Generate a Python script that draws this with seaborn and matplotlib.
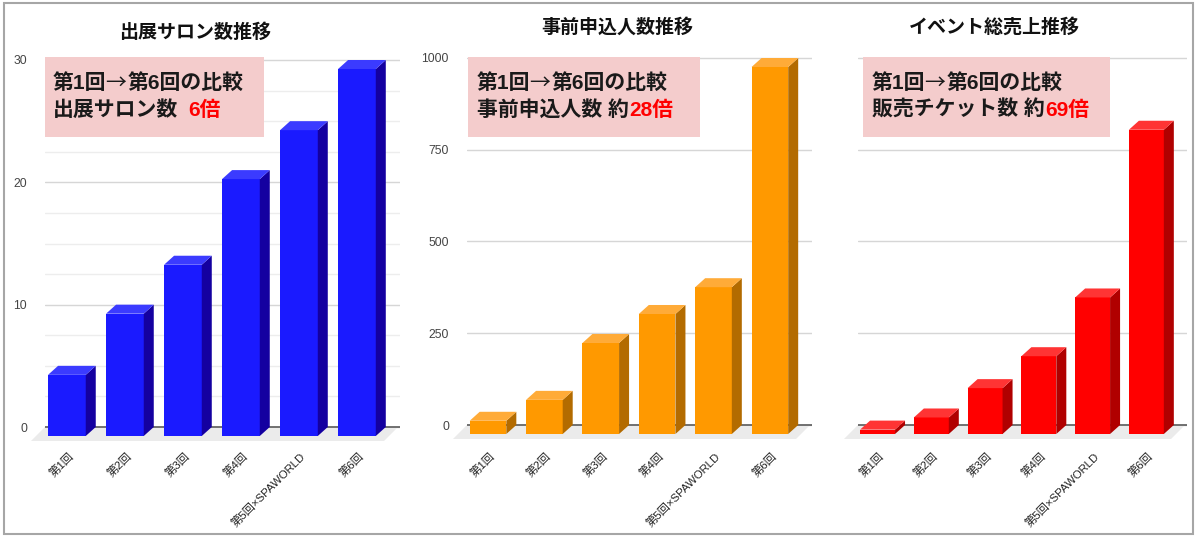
import numpy as np
import pandas as pd
import seaborn as sns
import matplotlib.pyplot as plt
from matplotlib.patches import Polygon, Rectangle
from matplotlib.transforms import offset_copy, ScaledTranslation
from matplotlib.ticker import MultipleLocator

# data
rounds = ["第1回", "第2回", "第3回", "第4回", "第5回×SPAWORLD", "第6回"]
salons = [5, 10, 14, 21, 25, 30]
applicants = [36, 93, 248, 327, 400, 1000]
tickets = [12, 45, 125, 212, 372, 829]

titles = ["出展サロン数推移", "事前申込人数推移", "イベント総売上推移"]
box_line1 = ["第1回", "→", "第6回の比較"]
box_black = ["出展サロン数", "事前申込人数 約", "販売チケット数 約"]
box_red = ["6倍", "28倍", "69倍"]

sns.set_theme(style="white")
plt.rcParams['font.family'] = ['Liberation Sans', 'Noto Sans CJK JP', 'DejaVu Sans']

W, H = 1200, 539
fig = plt.figure(figsize=(12, 5.39), dpi=100)
fig.patch.set_facecolor('white')


def fx(x):
    return x / W


def fy(y):
    return 1 - y / H


XLIM = (-0.55, 5.57)
DX, DY = 10, 9          # 3d depth of the bars, pixels
AX_TOP, AX_BOT = 52, 445
BOX_FS = 15


def bar3d(values, left, right, zero, top, top_val, ticks, cols, minor=None, show_y=True):
    front, side, lid = cols
    ax = fig.add_axes([fx(left), fy(AX_BOT), fx(right) - fx(left), (AX_BOT - AX_TOP) / H])
    ax.set_facecolor('none')
    df = pd.DataFrame({"round": rounds, "value": values})
    sns.barplot(data=df, x="round", y="value", color=front, saturation=1,
                width=0.65, ax=ax, zorder=3)
    ppy = (zero - top) / top_val
    ppx = (right - left) / (XLIM[1] - XLIM[0])
    ax.set_xlim(*XLIM)
    ax.set_ylim(-(AX_BOT - zero) / ppy, top_val + (top - AX_TOP) / ppy)

    dx, dy = DX / ppx, DY / ppy
    front_tr = offset_copy(ax.transData, fig=fig, x=-DX, y=-DY, units='dots')
    for bar in list(ax.patches):
        x0, w, h = bar.get_x(), bar.get_width(), bar.get_height()
        x1 = x0 + w
        bar.set_transform(front_tr)
        bar.set_edgecolor('none')
        ax.add_patch(Polygon([(x1 - dx, -dy), (x1, 0), (x1, h), (x1 - dx, h - dy)],
                             closed=True, fc=side, ec='none', zorder=3))
        ax.add_patch(Polygon([(x0 - dx, h - dy), (x1 - dx, h - dy), (x1, h), (x0, h)],
                             closed=True, fc=lid, ec='none', zorder=3))

    # floor
    fdx, fdy = 14 / ppx, 14 / ppy
    xl, xr = XLIM[0], XLIM[1] - 2 / ppx
    ax.add_patch(Polygon([(xl, 0), (xr, 0), (xr - fdx, -fdy), (xl - fdx, -fdy)],
                         closed=True, fc='#ebebeb', ec='none', zorder=1.5, clip_on=False))
    ax.axhline(0, color='#5a5a5a', lw=1.2, zorder=2)

    ax.set_yticks(ticks)
    ax.yaxis.grid(True, color='#d6d6d6', lw=1)
    if minor:
        ax.yaxis.set_minor_locator(MultipleLocator(minor))
        ax.yaxis.grid(True, which='minor', color='#ededed', lw=1)
    ax.set_axisbelow(True)
    ax.tick_params(axis='y', length=0, which='both', pad=13, labelsize=8.7, labelcolor='#444444')
    if not show_y:
        ax.set_yticklabels([])
    ax.set_xticks(range(len(rounds)))
    ax.set_xticklabels(rounds, rotation=45, ha='right', va='center',
                       rotation_mode='anchor', fontsize=8.2, color='#222222')
    ax.tick_params(axis='x', length=0, pad=7)
    shift = ScaledTranslation(-5 / 100, 0, fig.dpi_scale_trans)
    for lbl in ax.get_xticklabels():
        lbl.set_transform(lbl.get_transform() + shift)
    ax.set_xlabel('')
    ax.set_ylabel('')
    sns.despine(ax=ax, left=True, bottom=True)
    return ax


ax1 = bar3d(salons, 45, 400, 427, 60, 30, [0, 10, 20, 30],
            ('#1a1aff', '#1400a0', '#3b3bff'), minor=2.5)
ax2 = bar3d(applicants, 467, 812, 425, 58, 1000, [0, 250, 500, 750, 1000],
            ('#ff9900', '#b36b00', '#ffab38'))
ax3 = bar3d(tickets, 858, 1187, 425, 58, 1000, [0, 250, 500, 750, 1000],
            ('#ff0000', '#b00000', '#ff3434'), show_y=False)

# titles
title_pos = [(195, 33), (617, 27), (994, 27)]
for t, (cx, cy) in zip(titles, title_pos):
    fig.text(fx(cx), fy(cy), t, ha='center', va='center', fontsize=13.7,
             fontweight='bold', color='#111111')

# pink comparison boxes
boxes = [(ax1, 45, 264, 53, 7), (ax2, 468, 700, 477, 0), (ax3, 863, 1110, 872, 0)]
for (ax, bx0, bx1, tx, gap), black, red in zip(boxes, box_black, box_red):
    ax.add_patch(Rectangle((fx(bx0), fy(137)), fx(bx1) - fx(bx0), 80 / H,
                           transform=fig.transFigure, fc='#f4cccc', ec='none',
                           zorder=4, clip_on=False))
    t1 = ax.text(fx(tx), fy(83), box_line1[0], transform=fig.transFigure, ha='left',
                 va='center', fontsize=BOX_FS, fontweight='bold', color='#1a1a1a', zorder=5)
    t2 = ax.annotate(box_line1[1], xy=(1, 0.5), xycoords=t1, xytext=(-1, 0),
                     textcoords='offset points', ha='left', va='center',
                     fontsize=BOX_FS, family='Noto Sans CJK JP', color='#1a1a1a', zorder=5)
    ax.annotate(box_line1[2], xy=(1, 0.5), xycoords=t2, xytext=(1.5, 0),
                textcoords='offset points', ha='left', va='center',
                fontsize=BOX_FS, fontweight='bold', color='#1a1a1a', zorder=5)
    tb = ax.text(fx(tx), fy(110), black, transform=fig.transFigure, ha='left',
                 va='center', fontsize=BOX_FS, fontweight='bold', color='#1a1a1a', zorder=5)
    ax.annotate(red, xy=(1, 0), xycoords=tb, xytext=(gap, 0), textcoords='offset points',
                ha='left', va='bottom', fontsize=BOX_FS, fontweight='bold',
                color='#ff0000', zorder=5)

# outer frame
fig.add_artist(Rectangle((fx(4), fy(534)), fx(1193) - fx(4), (534 - 3) / H,
                         transform=fig.transFigure, fill=False, ec='#a6a6a6', lw=1.5,
                         zorder=10))

fig.savefig("out.png", dpi=100, facecolor='white')
